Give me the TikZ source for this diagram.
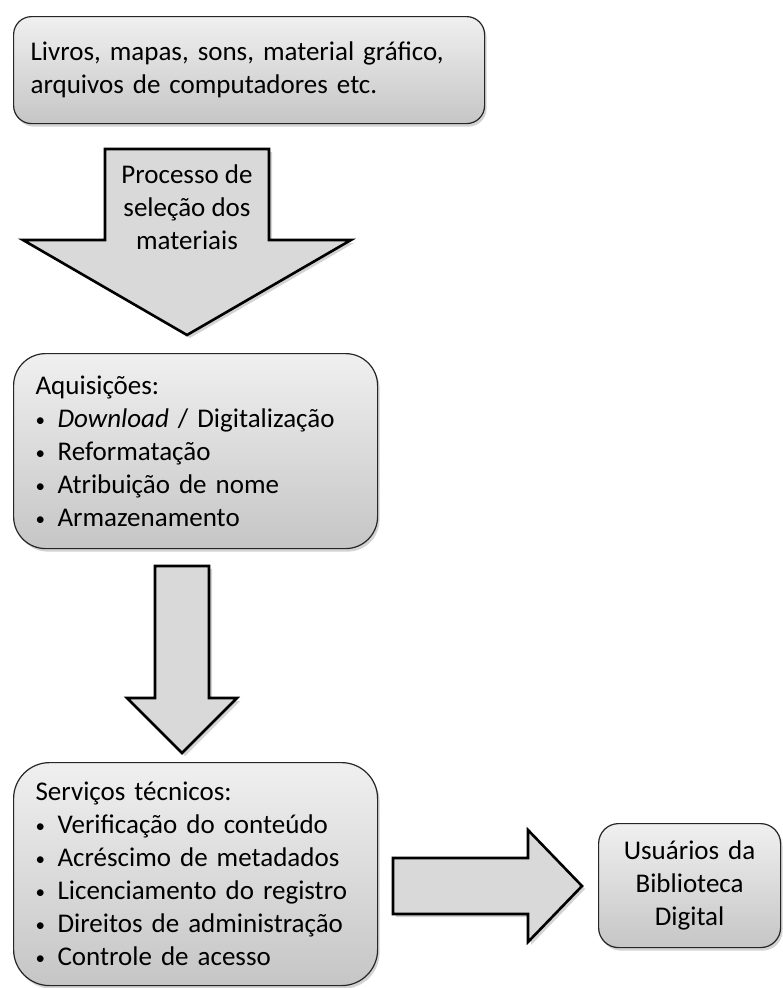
\documentclass[tikz,border=0pt]{standalone}
\usepackage{fontspec}
\setmainfont{Carlito}
\usetikzlibrary{shadows}
\newcommand{\itm}{\makebox[22pt][l]{\raisebox{1pt}{\fontsize{19}{19}\selectfont•}}}
\begin{document}
\begin{tikzpicture}[x=1pt,y=-1pt]
        \tikzstyle{box} = [rectangle, draw=black!85, line width=1.2pt, top color=gray!12, bottom color=gray!45, drop shadow={opacity=0.35, shadow xshift=2pt, shadow yshift=-3pt}, font=\fontsize{27}{33}\selectfont, anchor=north west, inner ysep=0pt]
        \tikzstyle{blk} = [draw=black, line width=2.6pt, line join=miter, fill=gray!30, drop shadow={opacity=0.35, shadow xshift=3pt, shadow yshift=-3pt}]
        \useasboundingbox (0,0) rectangle (782,988);
        \node (src) [box, rounded corners=18pt, align=left, minimum width=471pt, minimum height=107pt, text width=437pt, inner xsep=17pt] at (13,16) {Livros, mapas, sons, material gráfico,\\arquivos de computadores etc.};
        \node (acq) [box, rounded corners=32pt, align=left, minimum width=364pt, minimum height=195pt, text width=330pt, inner xsep=17pt] at (13,353) {\hspace{5pt}Aquisições:\\\hspace{5pt}\itm\textit{Download} / Digitalização\\\hspace{5pt}\itm Reformatação\\\hspace{5pt}\itm Atribuição de nome\\\hspace{5pt}\itm Armazenamento};
        \node (tech) [box, rounded corners=36pt, align=left, minimum width=364pt, minimum height=223pt, text width=330pt, inner xsep=17pt] at (13,762) {\hspace{5pt}Serviços técnicos:\\\hspace{5pt}\itm Verificação do conteúdo\\\hspace{5pt}\itm Acréscimo de metadados\\\hspace{5pt}\itm Licenciamento do registro\\\hspace{5pt}\itm Direitos de administração\\\hspace{5pt}\itm Controle de acesso};
        \node (users) [box, rounded corners=20pt, align=center, minimum width=182pt, minimum height=124pt, text width=170pt, inner xsep=6pt] at (598,823) {Usuários da\\Biblioteca\\Digital};
        % block arrows
        \draw[blk] (105,149) -- (269,149) -- (269,240) -- (351,240) -- (187,335) -- (23,240) -- (105,240) -- cycle;
        \node (sel) [font=\fontsize{27}{33}\selectfont, align=center] at (187,207) {Processo de\\seleção dos\\materiais};
        \draw[blk] (155,566) -- (209,566) -- (209,698) -- (237,698) -- (182,753) -- (127,698) -- (155,698) -- cycle;
        \draw[blk] (393,858) -- (528,858) -- (528,830) -- (582,886) -- (528,942) -- (528,914) -- (393,914) -- cycle;
\end{tikzpicture}
\end{document}
